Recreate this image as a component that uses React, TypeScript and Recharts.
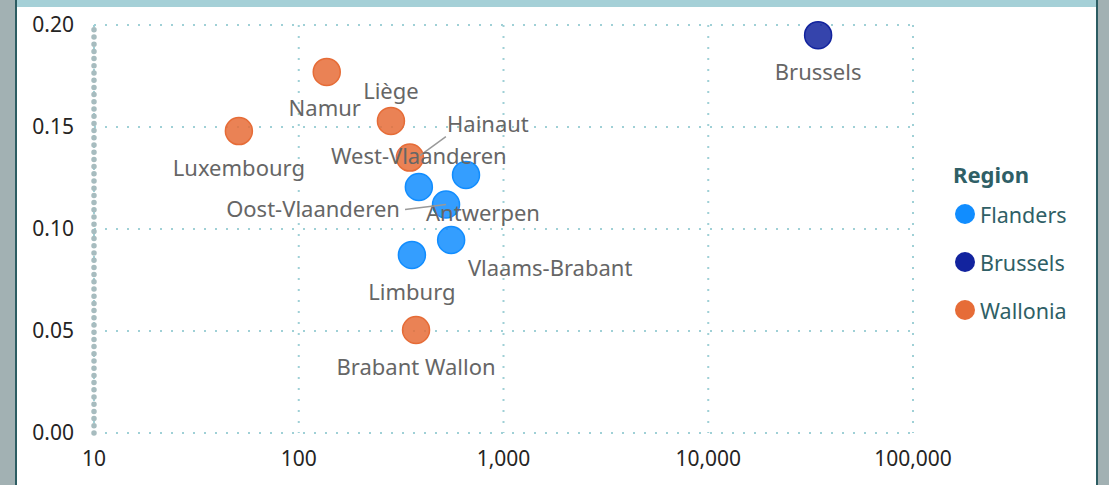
import React from 'react';
import {
  ScatterChart,
  Scatter,
  XAxis,
  YAxis,
  CartesianGrid,
  Legend,
  ReferenceLine,
} from 'recharts';

// regions shown in the legend
const regions = ['Flanders', 'Brussels', 'Wallonia'];

// provinces, their region and the two measures (x on a log axis)
const provinces = [
  'Brussels', 'Namur', 'Luxembourg', 'Liège', 'Hainaut', 'West-Vlaanderen',
  'Antwerpen', 'Oost-Vlaanderen', 'Vlaams-Brabant', 'Limburg', 'Brabant Wallon',
];
const provinceRegion = [
  'Brussels', 'Wallonia', 'Wallonia', 'Wallonia', 'Wallonia', 'Flanders',
  'Flanders', 'Flanders', 'Flanders', 'Flanders', 'Wallonia',
];
const xValues = [34400, 137, 51, 282, 349, 386, 656, 524, 555, 357, 374];
const yValues = [0.195, 0.177, 0.148, 0.153, 0.135, 0.1206, 0.1265, 0.112, 0.0946, 0.0873, 0.0505];

const xTicks = [10, 100, 1000, 10000, 100000];
const yTicks = [0, 0.05, 0.1, 0.15, 0.2];

const regionColors: Record<string, string> = {
  Flanders: '#118DFF',
  Brussels: '#12239E',
  Wallonia: '#E66C37',
};

// where each data label sits relative to its dot (leader = draw a line back to the dot)
const labelPlacement: Record<string, { dx: number; dy: number; leader?: [number, number, number, number] }> = {
  Brussels: { dx: 0, dy: 36 },
  Namur: { dx: -2, dy: 35 },
  Luxembourg: { dx: 0, dy: 36 },
  'Liège': { dx: 0, dy: -31 },
  Hainaut: { dx: 78, dy: -35, leader: [10, -2, 36, -21] },
  'West-Vlaanderen': { dx: 0, dy: -32 },
  Antwerpen: { dx: 17, dy: 37 },
  'Oost-Vlaanderen': { dx: -133, dy: 3, leader: [-41, 5, 0, 0] },
  'Vlaams-Brabant': { dx: 99, dy: 27 },
  Limburg: { dx: 0, dy: 36 },
  'Brabant Wallon': { dx: 0, dy: 36 },
};

const points = provinces.map((name, i) => ({
  name,
  region: provinceRegion[i],
  x: xValues[i],
  y: yValues[i],
}));

const FONT = '"Noto Sans", "Open Sans", sans-serif';

const Dot = (props: any) => {
  const { cx, cy, payload } = props;
  const c = regionColors[payload.region];
  return <circle cx={cx} cy={cy} r={13.5} fill={c} fillOpacity={0.85} stroke={c} strokeWidth={1.5} />;
};

const DataLabel = (props: any) => {
  const { cx, cy, payload } = props;
  const p = labelPlacement[payload.name] || { dx: 0, dy: 36 };
  return (
    <g>
      {p.leader && (
        <line
          x1={cx + p.leader[0]}
          y1={cy + p.leader[1]}
          x2={cx + p.leader[2]}
          y2={cy + p.leader[3]}
          stroke="#999"
          strokeWidth={1.5}
        />
      )}
      <text
        x={cx + p.dx}
        y={cy + p.dy}
        textAnchor="middle"
        dominantBaseline="central"
        fontSize={22}
        fontFamily={FONT}
        fill="#666666"
      >
        {payload.name}
      </text>
    </g>
  );
};

const RegionLegend = () => (
  <div style={{ fontFamily: FONT, color: '#2F5F66' }}>
    <div style={{ fontWeight: 700, fontSize: 22, lineHeight: '32px' }}>Region</div>
    {regions.map((r) => (
      <div key={r} style={{ display: 'flex', alignItems: 'center', height: 48, fontSize: 21.5 }}>
        <span
          style={{
            width: 20,
            height: 20,
            borderRadius: 10,
            background: regionColors[r],
            marginLeft: 2,
            marginRight: 5,
          }}
        />
        {r}
      </div>
    ))}
  </div>
);

export default function App() {
  return (
    <div style={{ position: 'absolute', left: 0, top: 0, width: 1109, height: 485, background: '#fff', overflow: 'hidden' }}>
      {/* card frame */}
      <div style={{ position: 'absolute', left: 0, top: 0, width: 15, height: 485, background: '#A2B1B3' }} />
      <div style={{ position: 'absolute', left: 15, top: 0, width: 2, height: 485, background: '#2C5C62' }} />
      <div style={{ position: 'absolute', left: 17, top: 0, width: 1079, height: 7, background: '#A5D0D7' }} />
      <div style={{ position: 'absolute', left: 1096, top: 0, width: 2, height: 485, background: '#2C5C62' }} />
      <div style={{ position: 'absolute', left: 1098, top: 0, width: 11, height: 485, background: '#A2B1B3' }} />

      <div style={{ position: 'absolute', left: 0, top: 0 }}>
        <ScatterChart width={1109} height={485} margin={{ top: 25, right: 196, bottom: 22, left: 14 }}>
          <CartesianGrid stroke="#9FD0D6" strokeWidth={2} strokeDasharray="2 9" />
          <XAxis
            dataKey="x"
            type="number"
            scale="log"
            domain={[10, 100000]}
            ticks={xTicks}
            allowDataOverflow
            axisLine={false}
            tickLine={false}
            height={30}
            tickMargin={12}
            tickFormatter={(v: number) => v.toLocaleString('en-US')}
            tick={{ fontSize: 21, fill: '#252423', fontFamily: FONT }}
          />
          <YAxis
            dataKey="y"
            type="number"
            domain={[0, 0.2]}
            ticks={yTicks}
            width={80}
            tickLine={false}
            axisLine={false}
            tickMargin={14}
            tickFormatter={(v: number) => v.toFixed(2)}
            tick={{ fontSize: 21, fill: '#252423', fontFamily: FONT }}
          />
          {/* the dotted y axis line */}
          <ReferenceLine
            x={10}
            stroke="#A7BCBF"
            strokeWidth={5.5}
            strokeDasharray="0 7.2"
            strokeLinecap="round"
          />
          <Legend
            verticalAlign="middle"
            layout="horizontal"
            content={<RegionLegend />}
            wrapperStyle={{ left: 953, top: 158, width: 150, height: 180 }}
          />
          {regions.map((r) => (
            <Scatter
              key={r}
              name={r}
              data={points.filter((p) => p.region === r)}
              fill={regionColors[r]}
              shape={<Dot />}
              isAnimationActive={false}
            />
          ))}
          <Scatter
            name="labels"
            data={points}
            legendType="none"
            shape={<DataLabel />}
            isAnimationActive={false}
          />
        </ScatterChart>
      </div>
    </div>
  );
}
